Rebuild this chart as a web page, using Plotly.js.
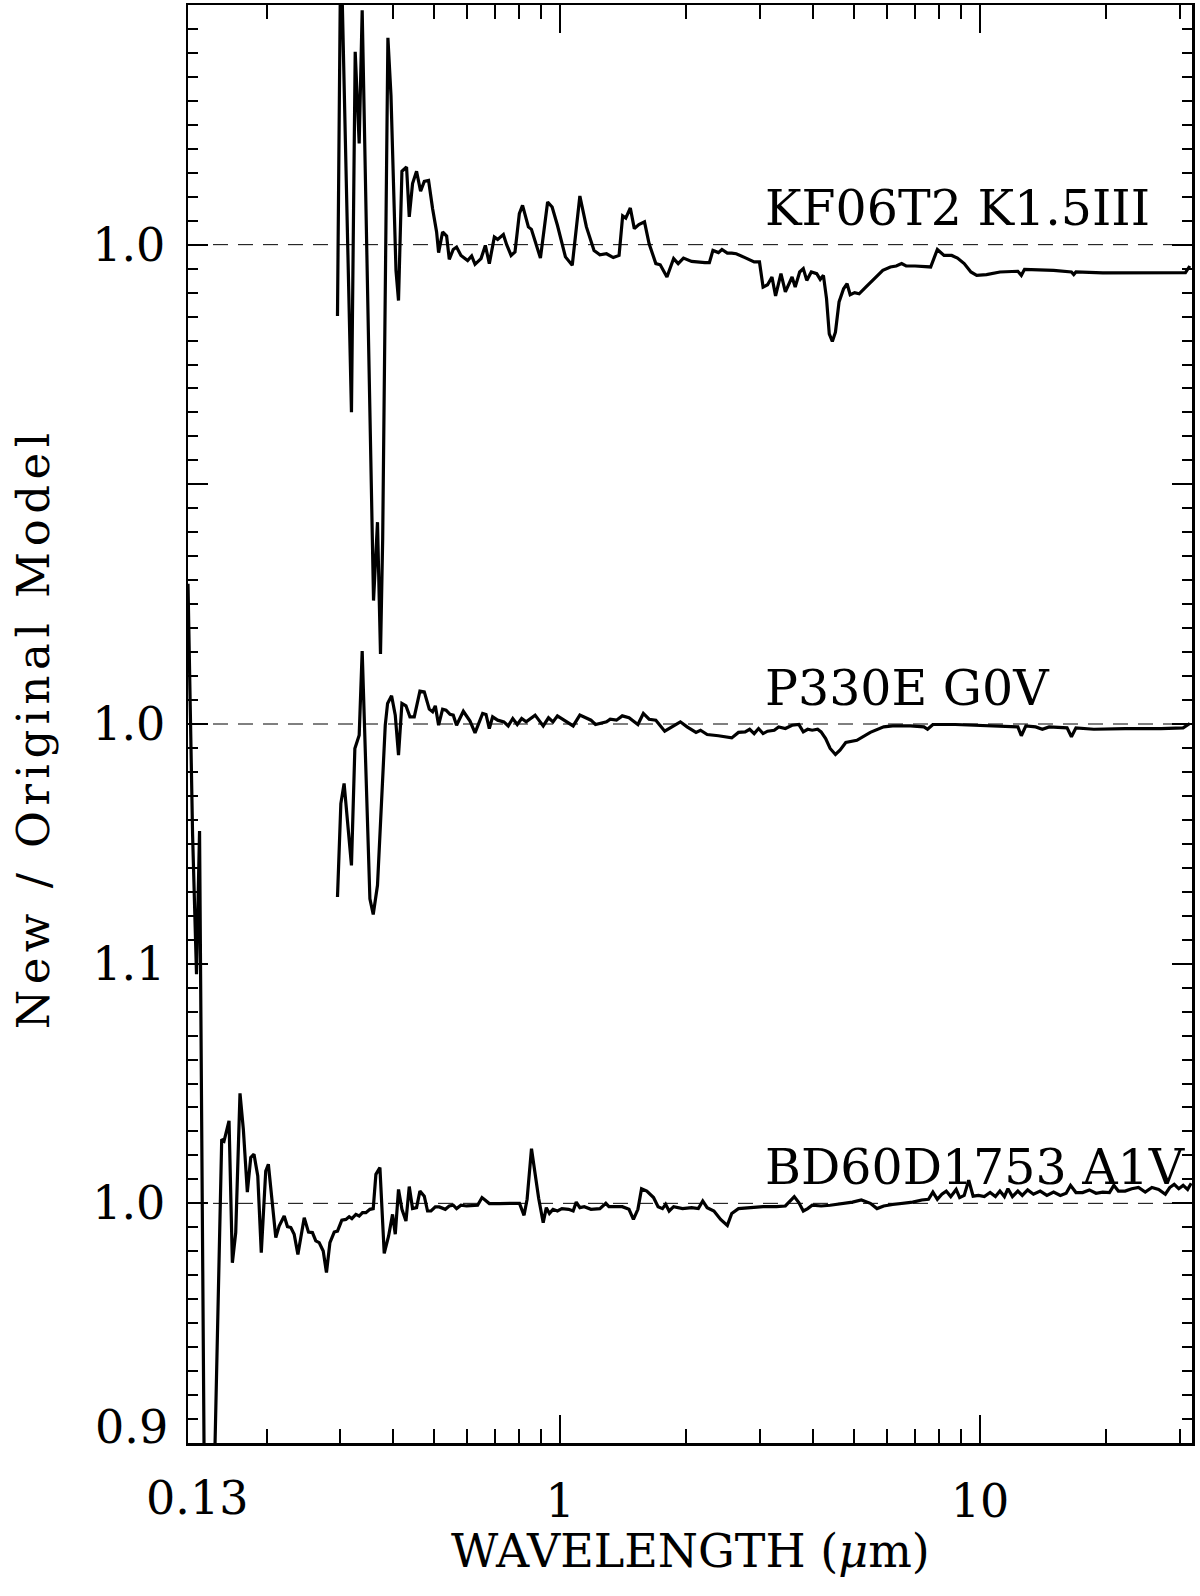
<!DOCTYPE html>
<html><head><meta charset="utf-8">
<script src="https://cdn.plot.ly/plotly-3.0.1.min.js"></script>
<style>body{margin:0;background:#fff}</style>
</head><body>
<div id="chart" style="width:1200px;height:1596px"></div>
<script>
// KF06T2 K1.5III : wavelength (micron) and New/Original ratio
const kfWave = [0.2951,0.3005,0.3186,0.3252,0.3324,0.3379,0.3596,0.3675,0.3736,0.3781,0.3891,0.3957,0.4067,0.4124,0.4202,0.4310,0.4374,0.4454,0.4553,0.4655,0.4750,0.4863,0.4972,0.5082,0.5138,0.5252,0.5369,0.5448,0.5568,0.5670,0.5809,0.6025,0.6159,0.6274,0.6484,0.6639,0.6786,0.6975,0.7103,0.7329,0.7463,0.7646,0.7812,0.8000,0.8142,0.8407,0.8548,0.8833,0.8981,0.9342,0.9576,0.9858,1.0301,1.0693,1.1149,1.1556,1.2051,1.2442,1.2901,1.3392,1.3823,1.4099,1.4341,1.4702,1.5028,1.5406,1.5892,1.6300,1.6911,1.7324,1.7974,1.8646,1.9116,1.9679,2.0578,2.2140,2.2681,2.3130,2.3836,2.4300,2.5030,2.5643,2.6283,2.7733,2.9000,2.9854,3.0450,3.1208,3.1970,3.2610,3.3587,3.4408,3.5699,3.6313,3.7219,3.7963,3.8697,3.9671,4.0866,4.1655,4.2393,4.3124,4.3774,4.4518,4.5283,4.6189,4.7350,4.8266,4.9095,5.0319,5.1574,5.3484,5.6180,5.8710,6.1210,6.3199,6.5094,6.6733,7.0066,7.3571,7.6329,7.9193,8.2148,8.5662,8.8431,9.1749,9.5179,9.8265,10.368,11.161,12.313,12.551,12.773,14.980,16.519,16.730,16.934,19.615,23.282,27.648,30.870,31.62];
const kfRatio = [0.9702,1.129,0.9301,1.0805,1.0422,1.0978,0.8515,0.8842,0.8292,0.8772,1.0863,1.0623,0.9893,0.9767,1.0306,1.0324,1.0116,1.0255,1.0306,1.0223,1.0264,1.0268,1.0150,1.0053,0.9967,1.0053,1.0036,0.9939,0.9980,0.9990,0.9955,0.9934,0.9953,0.9918,0.9942,0.9997,0.9921,1.0032,1.0022,1.0042,1.0000,0.9955,0.9970,1.0129,1.0164,1.0074,1.0064,0.9980,0.9944,1.0178,1.0157,1.0081,0.9949,0.9914,1.0203,1.0074,0.9976,0.9958,0.9962,0.9946,0.9955,1.0120,1.0111,1.0153,1.0067,1.0084,1.0095,1.0004,0.9921,0.9916,0.9865,0.9942,0.9921,0.9944,0.9930,0.9925,0.9925,0.9976,0.9967,0.9980,0.9965,0.9965,0.9962,0.9944,0.9928,0.9928,0.9823,0.9833,0.9865,0.9786,0.9879,0.9803,0.9865,0.9823,0.9886,0.9900,0.9851,0.9886,0.9879,0.9855,0.9872,0.9775,0.9628,0.9596,0.9635,0.9761,0.9816,0.9837,0.9791,0.9800,0.9795,0.9823,0.9861,0.9893,0.9907,0.9911,0.9921,0.9911,0.9911,0.9907,0.9907,0.9980,0.9955,0.9955,0.9944,0.9921,0.9886,0.9872,0.9875,0.9886,0.9889,0.9872,0.9897,0.9893,0.9886,0.9875,0.9886,0.9882,0.9883,0.9882,0.9883,0.9911];

// P330E G0V
const p330Wave = [0.2951,0.3006,0.3060,0.3186,0.3246,0.3324,0.3379,0.3525,0.3590,0.3675,0.3835,0.3884,0.3970,0.4051,0.4124,0.4202,0.4296,0.4391,0.4496,0.4638,0.4750,0.4882,0.4972,0.5046,0.5138,0.5252,0.5352,0.5470,0.5568,0.5670,0.5884,0.6104,0.6274,0.6542,0.6664,0.6786,0.6910,0.7103,0.7350,0.7527,0.7717,0.7909,0.8102,0.8306,0.8723,0.9119,0.9388,0.9623,0.9858,1.0358,1.0746,1.1149,1.1849,1.2145,1.2909,1.3167,1.3629,1.4068,1.4597,1.5327,1.5790,1.6300,1.6911,1.7756,1.8422,1.9345,2.0071,2.1081,2.1607,2.2409,2.3836,2.5030,2.5643,2.6607,2.7600,2.8289,2.9000,2.9703,3.0450,3.1208,3.2377,3.3171,3.4408,3.5699,3.7040,3.7963,3.8894,3.9865,4.1065,4.1858,4.2916,4.3988,4.5283,4.6425,4.7924,5.0933,5.4828,5.9007,6.1999,6.8361,7.3571,7.5042,7.7268,8.7357,10.116,11.722,12.313,12.551,12.865,13.578,14.087,14.616,16.127,16.519,16.934,18.677,22.170,26.972,30.48,31.62];
const p330Ratio = [0.9278,0.9668,0.9752,0.9410,0.9898,0.9953,1.0304,0.9271,0.9205,0.9327,0.9995,1.0086,1.0118,1.0037,0.9870,1.0086,1.0076,1.0030,1.0030,1.0137,1.0134,1.0062,1.0051,1.0076,0.9995,1.0062,1.0058,1.0040,1.0037,0.9995,1.0053,1.0012,0.9963,1.0044,1.0040,0.9981,1.0030,1.0016,1.0009,0.9992,1.0023,0.9998,1.0023,1.0009,1.0037,0.9992,1.0026,1.0009,1.0034,1.0012,0.9992,1.0037,1.0016,0.9998,1.0009,1.0020,1.0016,1.0034,1.0026,0.9998,1.0044,1.0020,1.0016,0.9970,0.9988,1.0009,0.9988,0.9965,0.9974,0.9956,0.9951,0.9947,0.9942,0.9965,0.9967,0.9978,0.9960,0.9981,0.9960,0.9970,0.9974,0.9988,0.9981,0.9995,0.9998,0.9967,0.9978,0.9974,0.9978,0.9967,0.9939,0.9898,0.9873,0.9891,0.9923,0.9932,0.9965,0.9988,0.9992,0.9992,0.9988,0.9978,0.9998,0.9998,0.9995,0.9992,0.9988,0.9951,0.9992,0.9988,0.9978,0.9988,0.9984,0.9947,0.9984,0.9978,0.9981,0.9981,0.9984,1.0002];

// BD60D1753 A1V
const bdWave = [0.1300,0.1315,0.1333,0.1362,0.1385,0.1441,0.1564,0.1584,0.1628,0.1658,0.1689,0.1729,0.1761,0.1800,0.1834,0.1867,0.1906,0.1943,0.1991,0.2020,0.2104,0.2143,0.2203,0.2243,0.2285,0.2327,0.2375,0.2459,0.2517,0.2572,0.2620,0.2669,0.2729,0.2778,0.2831,0.2899,0.2951,0.3022,0.3090,0.3146,0.3193,0.3264,0.3324,0.3385,0.3449,0.3525,0.3590,0.3643,0.3724,0.3813,0.3905,0.3991,0.4051,0.4124,0.4202,0.4296,0.4374,0.4454,0.4553,0.4638,0.4750,0.4836,0.4928,0.5046,0.5157,0.5330,0.5448,0.5568,0.5670,0.5809,0.5991,0.6364,0.6519,0.6639,0.6786,0.7169,0.7527,0.8006,0.8209,0.8348,0.8551,0.8723,0.8896,0.9119,0.9275,0.9434,0.9623,0.9858,1.0105,1.0483,1.0746,1.0929,1.1149,1.1421,1.1849,1.2442,1.2853,1.3074,1.4068,1.4597,1.4955,1.5327,1.5636,1.6095,1.6700,1.7121,1.7539,1.7845,1.8190,1.8646,1.9580,2.0578,2.1350,2.1873,2.2409,2.3257,2.4127,2.5030,2.5643,2.6607,2.8289,3.0450,3.2766,3.4408,3.6134,3.7040,3.7963,3.8894,3.9865,4.1858,4.3988,4.6189,4.9720,5.2207,5.4828,5.6870,5.9007,6.1999,6.5094,6.9183,7.2696,7.5425,7.7268,7.9193,8.1170,8.3153,8.5226,8.7799,8.9495,9.1749,9.4048,9.6350,9.9243,10.245,10.576,10.889,11.161,11.439,11.662,11.953,12.313,12.615,12.994,13.415,13.918,14.440,14.980,15.543,16.049,16.440,16.934,17.565,18.222,18.904,19.615,20.350,20.845,21.369,22.170,23.000,23.865,24.759,25.686,26.648,27.648,28.316,29.025,29.752,30.48,31.24,31.87];
const bdRatio = [1.2585,1.2021,1.1541,1.0956,1.1553,0.742,1.0267,1.0260,1.0344,0.9752,0.9878,1.0459,1.0309,1.0047,1.0191,1.0205,1.0114,0.9794,1.0135,1.0163,0.9857,0.9905,0.9947,0.9903,0.9899,0.9871,0.9787,0.9940,0.9880,0.9878,0.9843,0.9836,0.9801,0.9711,0.9836,0.9880,0.9884,0.9930,0.9933,0.9944,0.9936,0.9954,0.9947,0.9961,0.9961,0.9975,0.9978,1.0121,1.0149,0.9791,0.9863,0.9954,0.9871,1.0058,0.9975,0.9926,1.0070,0.9978,0.9982,1.0051,1.0030,0.9968,0.9968,0.9985,0.9985,0.9975,0.9989,0.9992,0.9978,0.9992,0.9989,0.9992,1.0024,1.0013,0.9999,0.9999,1.0000,1.0000,0.9950,1.0017,1.0228,1.0114,1.0020,0.9919,0.9982,0.9958,0.9975,0.9968,0.9978,0.9975,0.9968,1.0005,0.9982,0.9986,0.9975,0.9978,1.0000,0.9986,0.9986,0.9975,0.9933,0.9975,1.0061,1.0051,1.0024,0.9986,0.9978,0.9996,0.9968,0.9986,0.9978,0.9982,0.9978,1.0010,0.9982,0.9968,0.9933,0.9908,0.9958,0.9978,0.9982,0.9986,0.9986,0.9989,1.0028,1.0003,0.9968,0.9978,0.9992,0.9989,0.9992,0.9996,1.0005,1.0014,1.0000,0.9978,0.9989,0.9995,0.9999,1.0005,1.0014,1.0017,1.0047,1.0017,1.0038,1.0051,1.0028,1.0058,1.0024,1.0033,1.0097,1.0030,1.0033,1.0028,1.0045,1.0028,1.0051,1.0028,1.0061,1.0028,1.0051,1.0033,1.0056,1.0038,1.0051,1.0033,1.0047,1.0033,1.0042,1.0075,1.0045,1.0045,1.0056,1.0042,1.0047,1.0045,1.0075,1.0051,1.0051,1.0061,1.0066,1.0047,1.0066,1.0058,1.0038,1.0066,1.0079,1.0061,1.0075,1.0058,1.0084];

const starLabels = ['KF06T2 K1.5III', 'P330E G0V', 'BD60D1753 A1V'];
const starOffsets = [0.4, 0.2, 0.0];
const starWaves = [kfWave, p330Wave, bdWave];
const starRatios = [kfRatio, p330Ratio, bdRatio];

const xTickVals = [0.13, 1, 10];
const xTickText = ['', '1', '10'];          // "0.13" drawn as its own label below
const xMinorVals = [0.2,0.3,0.4,0.5,0.6,0.7,0.8,0.9,2,3,4,5,6,7,8,9,20,30];
const yTickVals = [0.9, 1.0, 1.1, 1.2, 1.3, 1.4, 1.5];
const yTickText = ['', '1.0', '1.1', '1.0', '', '1.0', ''];  // "0.9" drawn as its own label below
const xTitle = 'WAVELENGTH (<i>μ</i>m)';
const yTitle = 'New / Original Model';

const FONT = 'DejaVu Serif';

const traces = starLabels.map((name, i) => ({
  type: 'scatter', mode: 'lines', name: name,
  x: starWaves[i],
  y: starRatios[i].map(v => v + starOffsets[i]),
  line: {color: '#000', width: 3.2},
  showlegend: false, hoverinfo: 'skip'
}));

const shapes = starOffsets.map(o => ({
  type: 'line', xref: 'paper', x0: 0, x1: 1, yref: 'y', y0: 1 + o, y1: 1 + o,
  line: {color: '#000', width: 1, dash: '15px,10px'}, layer: 'below'
}));

const annotations = starLabels.map((name, i) => ({
  text: name, xref: 'paper', x: 0.5727, xanchor: 'left',
  yref: 'y', y: 1.015 + starOffsets[i], yanchor: 'middle',
  showarrow: false, font: {family: FONT, size: 49, color: '#000'}
}));
annotations.push({
  text: yTitle, textangle: -90, xref: 'paper', x: -0.1545, xanchor: 'center',
  yref: 'paper', y: 0.497, yanchor: 'middle', showarrow: false,
  font: {family: FONT, size: 45, color: '#000'}
});
annotations.push({
  text: xTitle, xref: 'paper', x: 0.5, xanchor: 'center',
  yref: 'paper', y: -0.0748, yanchor: 'middle', showarrow: false,
  font: {family: FONT, size: 46, color: '#000'}
});
annotations.push({
  text: '0.9', xref: 'paper', x: -0.0175, xanchor: 'right',
  yref: 'y', y: 0.9, yanchor: 'middle', yshift: 16, showarrow: false,
  font: {family: FONT, size: 46, color: '#000'}
});
annotations.push({
  text: '0.13', xref: 'paper', x: 0.009, xanchor: 'center',
  yref: 'paper', y: -0.0385, yanchor: 'middle', showarrow: false,
  font: {family: FONT, size: 46, color: '#000'}
});

const layout = {
  width: 1200, height: 1596,
  margin: {l: 188, r: 8, t: 5, b: 153},
  paper_bgcolor: '#fff', plot_bgcolor: '#fff',
  showlegend: false,
  xaxis: {
    type: 'log', range: [Math.log10(0.13), Math.log10(32)],
    showline: true, linecolor: '#000', linewidth: 2.5, mirror: 'allticks',
    showgrid: false, zeroline: false,
    ticks: 'inside', ticklen: 28, tickwidth: 2, tickcolor: '#000',
    tickmode: 'array', tickvals: xTickVals, ticktext: xTickText,
    ticklabelstandoff: 16,
    tickfont: {family: FONT, size: 46, color: '#000'},
    minor: {tickmode: 'array', tickvals: xMinorVals, ticks: 'inside', ticklen: 14, tickwidth: 2, tickcolor: '#000', showgrid: false}
  },
  yaxis: {
    range: [0.9, 1.5],
    showline: true, linecolor: '#000', linewidth: 2.5, mirror: 'allticks',
    showgrid: false, zeroline: false,
    ticks: 'inside', ticklen: 20, tickwidth: 2, tickcolor: '#000',
    tickmode: 'array', tickvals: yTickVals, ticktext: yTickText,
    ticklabelstandoff: 11,
    tickfont: {family: FONT, size: 46, color: '#000'},
    minor: {dtick: 0.01, tick0: 0.9, ticks: 'inside', ticklen: 10, tickwidth: 2, tickcolor: '#000', showgrid: false}
  },
  shapes: shapes,
  annotations: annotations
};

Plotly.newPlot('chart', traces, layout, {staticPlot: true}).then(gd => {
  gd.querySelectorAll('text.annotation-text').forEach(t => {
    if (t.textContent === yTitle) t.style.letterSpacing = '5.5px';
  });
});
</script>
</body></html>
